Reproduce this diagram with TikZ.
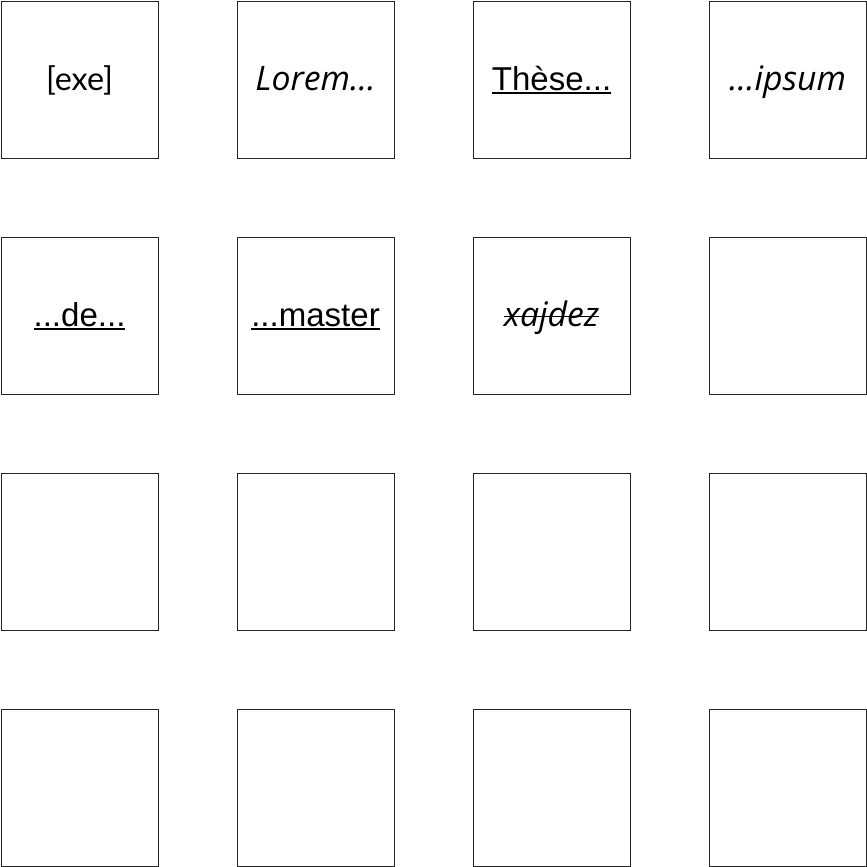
\documentclass[tikz,border=0pt]{standalone}
\usepackage{fontspec}
\usetikzlibrary{chains,positioning}
\setmainfont{Liberation Sans}
\newfontfamily\calfont{Lato}
\newfontfamily\handfont{Open Sans}
\newcommand\ulin[1]{\setbox0\hbox{#1}\rlap{\rule[-1.2pt]{\wd0}{0.55pt}}\box0}
\newcommand\strikeout[1]{\setbox0\hbox{#1}\rlap{\rule[0.26em]{\wd0}{0.45pt}}\box0}

\begin{document}
\begin{tikzpicture}[
			cell/.style={
				draw=black!85,
				line width=0.25pt,
				minimum size=15.7mm,
				inner sep=0pt,
				outer sep=0pt,
				text height=8pt,
				text depth=2pt,
				font=\fontsize{9.4}{11}\selectfont
			},
			hand/.style={
				font=\fontsize{9.6}{11}\selectfont\handfont\itshape
			},
			start chain=1 going right,node distance=7.9mm
			]
			\useasboundingbox (0,0) rectangle (8.67,-8.67);
			\node[on chain=1,cell,font=\fontsize{9.2}{11}\selectfont\calfont] at (0.795,-0.795)
			  (r1a) {[exe]};
			\node[on chain=1,cell,hand]
			  (r1b) {Lorem...};
			\node[on chain=1,cell]
			  (r1c) {\ulin{Thèse...}};
			\node[on chain=1,cell,hand]
			  (r1d) {...ipsum};
			\begin{scope}[start chain=2 going right]
				\node[on chain=2,cell] at (0.795,-3.155)
				  (r2a) {\ulin{...de...}};
				\node[on chain=2,cell]
				  (r2b) {\ulin{...master}};
				\node[on chain=2,cell,hand]
				  (r2c) {\strikeout{xajdez}};
				\node[on chain=2,cell]
				  (r2d) {};
			\end{scope}
			\begin{scope}[start chain=3 going right]
				\node[on chain=3,cell] at (0.795,-5.515)
				  (r3a) {};
				\node[on chain=3,cell] (r3b) {};
				\node[on chain=3,cell] (r3c) {};
				\node[on chain=3,cell] (r3d) {};
			\end{scope}
			\begin{scope}[start chain=4 going right]
				\node[on chain=4,cell] at (0.795,-7.875)
				  (r4a) {};
				\node[on chain=4,cell] (r4b) {};
				\node[on chain=4,cell] (r4c) {};
				\node[on chain=4,cell] (r4d) {};
			\end{scope}
\end{tikzpicture}
\end{document}
